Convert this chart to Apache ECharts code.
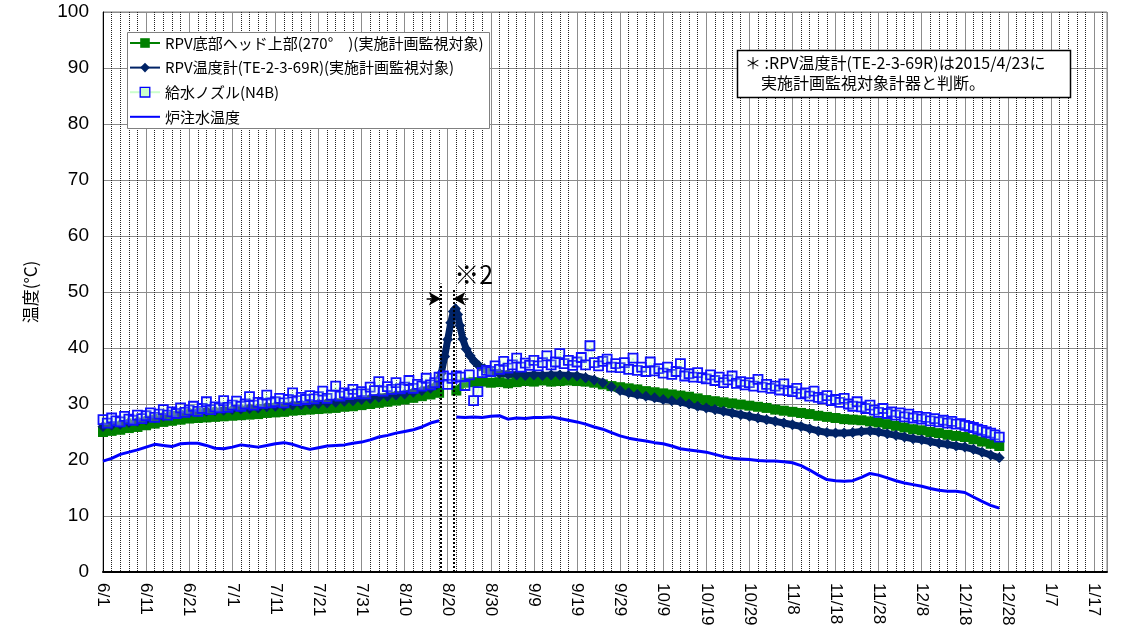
<!DOCTYPE html>
<html><head><meta charset="utf-8">
<script src="https://cdn.jsdelivr.net/npm/echarts@6/dist/echarts.min.js"></script>
<style>html,body{margin:0;padding:0;background:#fff}#c{width:1138px;height:630px}</style>
</head><body><div id="c"></div>
<script>
// ---- data (x = days since 6/1) ----
const startDate = [2015, 5, 1];
const xMax = 233;
const labelStep = 10;

const seriesNames = ['RPV底部ヘッド上部(270°　)(実施計画監視対象)', 'RPV温度計(TE-2-3-69R)(実施計画監視対象)', '給水ノズル(N4B)', '炉注水温度'];

// every 2 days, day 0..208
const days2 = Array.from({length: 105}, (_, i) => i * 2);

const rpvBottomHead = [
  25.0,25.2,25.4,25.7,25.9,26.2,26.5,26.8,27.0,27.2,
  27.4,27.5,27.6,27.7,27.8,27.9,28.0,28.1,28.2,28.4,
  28.5,28.6,28.8,28.9,29.0,29.1,29.2,29.3,29.5,29.6,
  29.8,30.0,30.2,30.4,30.6,30.8,31.1,31.4,31.7,32.0,
  null,32.4,33.8,33.9,34.0,33.8,33.9,33.7,33.9,34.1,
  34.0,34.2,34.0,34.1,34.2,34.1,34.0,33.8,33.5,33.2,
  33.0,32.8,32.6,32.3,32.1,31.9,31.7,31.5,31.3,31.0,
  30.7,30.5,30.3,30.1,29.9,29.7,29.5,29.3,29.0,28.8,
  28.6,28.4,28.2,27.9,27.7,27.5,27.3,27.2,27.1,26.9,
  26.7,26.4,26.1,25.8,25.5,25.3,25.0,24.8,24.5,24.3,
  24.1,23.7,23.3,22.9,22.5
];

const injectionWater = [
  19.8,20.3,21.0,21.4,21.8,22.3,22.8,22.6,22.4,22.9,
  23.0,23.0,22.6,22.1,22.0,22.3,22.7,22.5,22.3,22.6,
  22.9,23.1,22.8,22.3,21.9,22.2,22.5,22.6,22.7,23.0,
  23.2,23.6,24.1,24.4,24.8,25.1,25.4,25.9,26.6,27.0,
  null,27.7,27.6,27.7,27.6,27.8,27.9,27.3,27.5,27.4,
  27.6,27.6,27.7,27.4,27.1,26.8,26.4,25.9,25.5,24.9,
  24.3,23.9,23.6,23.4,23.1,22.9,22.5,22.0,21.8,21.6,
  21.4,21.0,20.6,20.3,20.2,20.1,19.9,19.8,19.8,19.7,
  19.5,19.0,18.2,17.3,16.5,16.3,16.2,16.3,16.9,17.6,
  17.3,16.8,16.3,15.9,15.6,15.3,14.9,14.6,14.4,14.4,
  14.2,13.4,12.6,11.9,11.4
];

const navyDays = [
  0,2,4,6,8,10,12,14,16,18,20,22,24,26,28,30,32,34,36,38,
  40,42,44,46,48,50,52,54,56,58,60,62,64,66,68,70,72,74,76,
  77.5,78.5,79.3,80,80.7,81.3,81.8,82.3,82.8,83.5,84.3,85.2,86.2,87.3,88.5,
  90,92,94,96,98,100,102,104,106,108,110,112,114,116,118,120,122,124,126,128,
  130,132,134,136,138,140,142,144,146,148,150,152,154,156,158,160,162,164,166,168,
  170,172,174,176,178,180,182,184,186,188,190,192,194,196,198,200,202,204,206,208
];
const rpvThermometer = [
  26.0,26.2,26.4,26.7,26.9,27.2,27.5,27.8,28.1,28.3,28.5,28.6,28.7,28.8,28.9,29.0,29.1,29.2,29.3,29.5,
  29.6,29.7,29.8,29.9,30.0,30.1,30.2,30.3,30.5,30.6,30.8,31.0,31.2,31.4,31.6,31.8,32.1,32.4,32.8,
  33.5,35.5,38.5,41.5,44.5,46.5,47.0,46.0,44.0,41.6,39.8,38.6,37.6,36.8,36.3,
  35.8,35.5,35.3,35.2,35.1,35.2,35.1,35.2,35.2,35.1,35.0,34.7,34.3,33.8,33.1,32.4,32.0,31.7,31.4,31.1,
  30.8,30.6,30.4,30.0,29.6,29.3,29.0,28.7,28.4,28.1,27.8,27.5,27.2,26.9,26.6,26.3,26.0,25.6,25.2,24.9,
  24.8,24.8,24.9,25.1,25.2,25.0,24.7,24.4,24.1,23.8,23.6,23.3,23.0,22.8,22.5,22.3,21.9,21.4,20.9,20.4
];

// daily, day 0..208
const feedwaterNozzle = [
  27.2,26.6,27.5,27.0,26.8,27.8,27.3,27.1,28.0,27.4,
  27.9,28.4,27.6,28.2,29.0,28.0,28.6,28.3,29.3,28.5,
  28.9,29.6,28.7,29.2,30.4,29.0,29.5,29.3,30.6,29.4,
  29.8,30.5,29.6,30.0,31.3,29.8,30.3,30.1,31.6,30.2,
  30.4,31.0,30.2,30.8,32.0,30.6,31.2,30.8,31.5,30.9,
  31.3,32.3,31.0,31.6,33.2,31.4,32.0,31.7,32.6,31.8,
  32.2,31.8,33.0,32.4,34.0,32.3,33.1,32.6,33.8,32.7,
  33.0,34.2,32.8,33.5,33.2,34.6,33.4,33.8,34.8,35.0,
  33.5,34.6,35.0,34.8,33.3,35.2,30.6,32.2,35.6,36.0,
  35.8,36.8,36.2,37.6,36.4,37.0,38.2,36.6,37.3,36.9,
  37.8,36.8,37.4,38.6,37.0,37.5,39.0,37.2,37.8,36.9,
  37.5,38.3,37.0,40.4,37.4,36.8,37.6,38.0,36.6,37.2,
  36.5,37.4,36.2,38.2,36.0,36.6,35.8,37.5,35.9,36.3,
  35.5,36.6,35.3,35.8,37.2,35.0,35.4,34.8,35.6,34.7,
  34.5,35.2,34.2,34.8,33.8,34.3,35.0,33.7,34.0,33.4,
  33.8,33.2,34.4,33.0,33.5,32.8,33.2,32.5,33.6,32.4,
  32.2,32.8,31.8,32.0,31.4,32.3,31.2,30.9,31.5,30.6,
  30.8,30.3,31.0,30.0,29.6,30.4,29.5,29.2,29.8,28.9,
  28.5,29.2,28.3,28.6,28.0,28.4,27.7,28.2,27.5,27.8,
  27.3,27.6,27.0,27.4,26.8,27.1,26.6,26.9,26.4,26.5,
  26.2,26.0,25.8,25.5,25.3,25.0,24.8,24.5,24.1
];
const daysDaily = feedwaterNozzle.map((_, i) => i);

// annotation (※2) positions in data units
const gapStart = 78.4, gapEnd = 81.3;
const noteText = ['＊ :RPV温度計(TE-2-3-69R)は2015/4/23に', '　実施計画監視対象計器と判断。'];

// ---- chart ----
const zip = (xs, ys) => xs.map((x, i) => [x, ys[i]]);
const base = Date.UTC(startDate[0], startDate[1], startDate[2]);
const fmtDay = v => {
  if (Math.round(v) % labelStep !== 0) return '';
  const d = new Date(base + Math.round(v) * 86400000);
  return (d.getUTCMonth() + 1) + '/' + d.getUTCDate();
};
const CJK = '"Noto Sans CJK JP", "Liberation Sans", sans-serif';
const LAT = '"Liberation Sans", Arial, sans-serif';
const arrowStyle = {type: 'solid', width: 1.5, color: '#000'};

const chart = echarts.init(document.getElementById('c'), null, {renderer: 'canvas'});
chart.setOption({
  animation: false,
  backgroundColor: '#fff',
  textStyle: {fontFamily: CJK},
  grid: {left: 103, right: 31, top: 12, bottom: 58, show: true, borderColor: '#808080', borderWidth: 1, backgroundColor: '#fff'},
  legend: {
    data: [
      {name: seriesNames[0]},
      {name: seriesNames[1]},
      {name: seriesNames[2], itemStyle: {color: '#ccffcc', borderColor: '#0000ff', borderWidth: 1.3}},
      {name: seriesNames[3], itemStyle: {opacity: 0}}
    ],
    orient: 'vertical', left: 129, top: 35,
    itemWidth: 30, itemHeight: 12, itemGap: 8.6, padding: 0,
    textStyle: {fontSize: 15, color: '#000', fontFamily: CJK, lineHeight: 16},
    selectedMode: false, z: 10
  },
  graphic: [
    {type: 'rect', z: 9, shape: {x: 127.5, y: 32.5, width: 362, height: 96}, style: {fill: '#fff', stroke: '#808080', lineWidth: 1}},
    {type: 'rect', z: 9, shape: {x: 737.5, y: 50.5, width: 333, height: 47}, style: {fill: '#fff', stroke: '#000', lineWidth: 1.5}},
    {type: 'text', z: 10, x: 745, y: 53, style: {text: noteText.join('\n'), font: '16px ' + CJK, fill: '#000', lineHeight: 20}}
  ],
  xAxis: [
    {
      type: 'value', min: 0, max: xMax, interval: 2, position: 'bottom',
      axisLine: {show: true, lineStyle: {color: '#000', width: 2}},
      axisTick: {show: false},
      axisLabel: {rotate: -90, margin: 11, fontSize: 17, color: '#000', fontFamily: LAT, formatter: fmtDay, showMaxLabel: false},
      splitLine: {show: true, lineStyle: {color: '#222', type: [1, 1], width: 1}}
    },
    {
      type: 'value', min: 0, max: xMax, interval: labelStep, position: 'bottom',
      axisLine: {show: false}, axisTick: {show: false}, axisLabel: {show: false},
      splitLine: {show: true, lineStyle: {color: '#8c8c8c', type: 'solid', width: 1}}
    }
  ],
  yAxis: {
    type: 'value', min: 0, max: 100, interval: 10,
    name: '温度(°C)', nameLocation: 'middle', nameGap: 64, nameRotate: 90,
    nameTextStyle: {fontSize: 17, color: '#000', fontFamily: CJK},
    axisLine: {show: true, lineStyle: {color: '#000', width: 1}},
    axisTick: {show: false},
    axisLabel: {fontSize: 19, color: '#000', margin: 14, fontFamily: LAT},
    splitLine: {show: true, lineStyle: {color: '#8c8c8c', width: 1}}
  },
  series: [
    {
      name: seriesNames[0], type: 'line', xAxisIndex: 0, data: zip(days2, rpvBottomHead),
      symbol: 'rect', symbolSize: 10, showAllSymbol: true, connectNulls: false,
      lineStyle: {color: '#008000', width: 7}, itemStyle: {color: '#008000'}
    },
    {
      name: seriesNames[1], type: 'line', xAxisIndex: 0, data: zip(navyDays, rpvThermometer),
      symbol: 'diamond', symbolSize: 11, showAllSymbol: true,
      lineStyle: {color: '#002366', width: 7}, itemStyle: {color: '#002366'}
    },
    {
      name: seriesNames[2], type: 'line', xAxisIndex: 0, data: zip(daysDaily, feedwaterNozzle),
      symbol: 'rect', symbolSize: 9, showAllSymbol: true,
      lineStyle: {color: '#ccffcc', width: 1},
      itemStyle: {color: 'rgba(204,255,204,0.25)', borderColor: '#1010ff', borderWidth: 1.8}
    },
    {
      name: seriesNames[3], type: 'line', xAxisIndex: 0, data: zip(days2, injectionWater),
      symbol: 'none', connectNulls: false,
      lineStyle: {color: '#0000ff', width: 3}, itemStyle: {color: '#0000ff'},
      markLine: {
        silent: true, animation: false, symbol: ['none', 'none'], label: {show: false},
        lineStyle: {color: '#000', type: 'dotted', width: 2},
        data: [
          [{coord: [gapStart, 0]}, {coord: [gapStart, 51.5]}],
          [{coord: [gapEnd, 0]}, {coord: [gapEnd, 50.5]}],
          [{coord: [gapStart - 3.3, 48.8], lineStyle: arrowStyle},
           {coord: [gapStart, 48.8], symbol: 'arrow', symbolSize: [10, 12], lineStyle: arrowStyle}],
          [{coord: [gapEnd + 3.5, 48.8], lineStyle: arrowStyle},
           {coord: [gapEnd, 48.8], symbol: 'arrow', symbolSize: [10, 12], lineStyle: arrowStyle}]
        ]
      },
      markPoint: {
        silent: true, animation: false, symbol: 'circle', symbolSize: 0,
        label: {show: true, position: 'inside', formatter: '※2', fontSize: 25, color: '#000', fontFamily: CJK},
        data: [{coord: [86, 53.2]}]
      }
    }
  ]
});
</script>
</body></html>
